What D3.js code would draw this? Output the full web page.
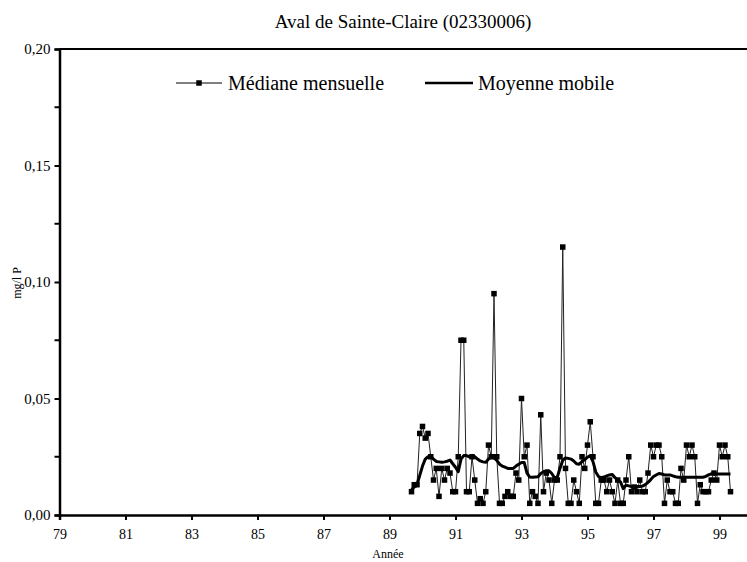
<!DOCTYPE html>
<html>
<head>
<meta charset="utf-8">
<script src="https://cdn.jsdelivr.net/npm/d3@7"></script>
<style>
  html, body { margin: 0; padding: 0; background: #fff; }
  svg { display: block; font-family: "Liberation Serif", "Times New Roman", serif; }
</style>
</head>
<body>
<svg id="chart" width="747" height="562"></svg>
<script>
// Station and axis text
const title = "Aval de Sainte-Claire (02330006)";
const yLabel = "mg/l P";
const xLabel = "Année";
const legendLabels = ["Médiane mensuelle", "Moyenne mobile"];

// Monthly series starts September 1989 (year 89 + 8/12)
const firstYear = 89;
const firstMonthIndex = 8;

// Monthly median total phosphorus (mg/l P)
const medianValues = [
  0.010, 0.013, 0.013, 0.035, 0.038, 0.033, 0.035, 0.025, 0.015, 0.020,
  0.008, 0.020, 0.015, 0.020, 0.018, 0.010, 0.010, 0.025, 0.075, 0.075,
  0.010, 0.010, 0.025, 0.015, 0.005, 0.007, 0.005, 0.010, 0.030, 0.025,
  0.095, 0.025, 0.005, 0.005, 0.008, 0.010, 0.008, 0.008, 0.018, 0.015,
  0.050, 0.025, 0.030, 0.005, 0.010, 0.008, 0.005, 0.043, 0.010, 0.018,
  0.015, 0.005, 0.015, 0.015, 0.025, 0.115, 0.020, 0.005, 0.005, 0.015,
  0.010, 0.005, 0.025, 0.020, 0.030, 0.040, 0.025, 0.005, 0.005, 0.015,
  0.015, 0.010, 0.015, 0.010, 0.005, 0.015, 0.005, 0.005, 0.015, 0.025,
  0.010, 0.012, 0.010, 0.015, 0.010, 0.010, 0.018, 0.030, 0.025, 0.030,
  0.030, 0.025, 0.005, 0.015, 0.010, 0.010, 0.005, 0.005, 0.020, 0.015,
  0.030, 0.025, 0.030, 0.025, 0.005, 0.013, 0.010, 0.010, 0.010, 0.015,
  0.018, 0.015, 0.030, 0.025, 0.030, 0.025, 0.010
];

// Moving average (mg/l P), same months
const movingAvgValues = [
  0.0110, 0.0120, 0.0130, 0.0170, 0.0210, 0.0240, 0.0250, 0.0250, 0.0240, 0.0230,
  0.0228, 0.0226, 0.0228, 0.0231, 0.0236, 0.0220, 0.0205, 0.0186, 0.0240, 0.0255,
  0.0255, 0.0250, 0.0255, 0.0250, 0.0240, 0.0232, 0.0228, 0.0226, 0.0240, 0.0250,
  0.0245, 0.0235, 0.0218, 0.0210, 0.0205, 0.0200, 0.0200, 0.0200, 0.0210, 0.0218,
  0.0225, 0.0225, 0.0180, 0.0163, 0.0162, 0.0163, 0.0164, 0.0178, 0.0186, 0.0190,
  0.0190, 0.0178, 0.0160, 0.0162, 0.0200, 0.0235, 0.0245, 0.0243, 0.0240, 0.0232,
  0.0220, 0.0218, 0.0229, 0.0238, 0.0248, 0.0255, 0.0229, 0.0185, 0.0165, 0.0160,
  0.0163, 0.0168, 0.0172, 0.0174, 0.0160, 0.0150, 0.0142, 0.0113, 0.0128, 0.0125,
  0.0122, 0.0122, 0.0122, 0.0122, 0.0124, 0.0130, 0.0140, 0.0152, 0.0165, 0.0172,
  0.0178, 0.0176, 0.0172, 0.0172, 0.0172, 0.0168, 0.0164, 0.0162, 0.0162, 0.0162,
  0.0162, 0.0162, 0.0162, 0.0162, 0.0162, 0.0162, 0.0162, 0.0166, 0.0172, 0.0177,
  0.0178, 0.0176, 0.0176, 0.0176, 0.0176, 0.0176, 0.0176
];

// Axis ticks
const xTickValues = [79, 81, 83, 85, 87, 89, 91, 93, 95, 97, 99];
const yTickValues = [0, 0.05, 0.10, 0.15, 0.20];
const yMinorTickValues = [0.025, 0.075, 0.125, 0.175];

const svg = d3.select("#chart");

const x = d3.scaleLinear().domain([79, 100]).range([59.5, 59.5 + 21 * 33]);
const y = d3.scaleLinear().domain([0, 0.20]).range([515, 49]);

const monthYear = i => firstYear + (firstMonthIndex + i) / 12;

const median = medianValues.map((v, i) => ({ t: monthYear(i), v }));
const moving = movingAvgValues.map((v, i) => ({ t: monthYear(i), v }));

// Frame: top border line
svg.append("line")
  .attr("x1", x(79)).attr("x2", 747)
  .attr("y1", y(0.20)).attr("y2", y(0.20))
  .attr("stroke", "#000").attr("stroke-width", 2);

// Y axis
const yAxis = d3.axisLeft(y)
  .tickValues(yTickValues)
  .tickSize(5)
  .tickPadding(4)
  .tickFormat(d => d3.format(".2f")(d).replace(".", ","));
const gy = svg.append("g").attr("transform", `translate(${x(79)},0)`).call(yAxis);
gy.select(".domain").attr("stroke-width", 2.5);
gy.selectAll(".tick line").attr("stroke-width", 2);
gy.selectAll(".tick text")
  .attr("font-family", "Liberation Serif, Times New Roman, serif")
  .attr("font-size", 15).attr("fill", "#000");
// minor ticks
svg.append("g").selectAll("line").data(yMinorTickValues).join("line")
  .attr("x1", x(79) - 5).attr("x2", x(79))
  .attr("y1", d => y(d)).attr("y2", d => y(d))
  .attr("stroke", "#000").attr("stroke-width", 2);

// X axis
const xAxis = d3.axisBottom(x)
  .tickValues(xTickValues)
  .tickSize(5)
  .tickPadding(9)
  .tickFormat(d => String(d));
const gx = svg.append("g").attr("transform", `translate(0,${y(0)})`).call(xAxis);
gx.select(".domain").attr("stroke-width", 2.5);
gx.selectAll(".tick line").attr("stroke-width", 2);
gx.selectAll(".tick text")
  .attr("font-family", "Liberation Serif, Times New Roman, serif")
  .attr("font-size", 14).attr("fill", "#000");

// Monthly median: thin line with square markers
svg.append("path")
  .datum(median)
  .attr("fill", "none")
  .attr("stroke", "#222")
  .attr("stroke-width", 1)
  .attr("d", d3.line().x(d => x(d.t)).y(d => y(d.v)));

const ms = 5.5;
svg.append("g").selectAll("rect").data(median).join("rect")
  .attr("x", d => x(d.t) - ms / 2)
  .attr("y", d => y(d.v) - ms / 2)
  .attr("width", ms).attr("height", ms)
  .attr("fill", "#000");

// Moving average: thick line
svg.append("path")
  .datum(moving)
  .attr("fill", "none")
  .attr("stroke", "#000")
  .attr("stroke-width", 3)
  .attr("stroke-linejoin", "round")
  .attr("d", d3.line().x(d => x(d.t)).y(d => y(d.v)));

// Title
svg.append("text")
  .attr("x", 403).attr("y", 28)
  .attr("text-anchor", "middle")
  .attr("font-size", 19)
  .text(title);

// Axis titles
svg.append("text")
  .attr("transform", `translate(21,${283}) rotate(-90)`)
  .attr("text-anchor", "middle")
  .attr("font-size", 12)
  .text(yLabel);

svg.append("text")
  .attr("x", 388).attr("y", 558)
  .attr("text-anchor", "middle")
  .attr("font-size", 12)
  .text(xLabel);

// Legend
const legend = svg.append("g");
const ly = 83;
legend.append("line")
  .attr("x1", 176).attr("x2", 222).attr("y1", ly).attr("y2", ly)
  .attr("stroke", "#000").attr("stroke-width", 1);
legend.append("rect")
  .attr("x", 199 - ms / 2).attr("y", ly - ms / 2)
  .attr("width", ms).attr("height", ms).attr("fill", "#000");
legend.append("text")
  .attr("x", 228).attr("y", ly + 7)
  .attr("font-size", 20)
  .text(legendLabels[0]);
legend.append("line")
  .attr("x1", 425).attr("x2", 473).attr("y1", ly).attr("y2", ly)
  .attr("stroke", "#000").attr("stroke-width", 2.5);
legend.append("text")
  .attr("x", 478).attr("y", ly + 7)
  .attr("font-size", 20)
  .text(legendLabels[1]);
</script>
</body>
</html>
